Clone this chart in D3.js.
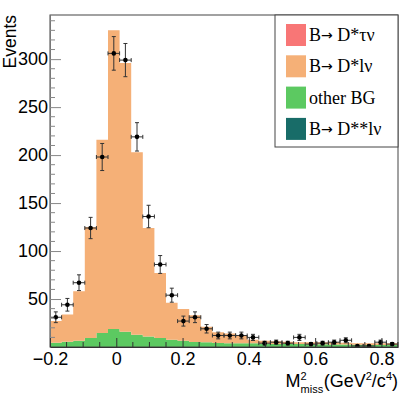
<!DOCTYPE html>
<html>
<head>
<meta charset="utf-8">
<script src="https://cdn.jsdelivr.net/npm/d3@7"></script>
<style>
body { margin: 0; background: #fff; }
</style>
</head>
<body>
<script>
let width = 415
let height = 395

// histogram bins (low edges), width 0.035
let binLow = [-0.2, -0.165, -0.13, -0.095, -0.06, -0.025, 0.01, 0.045, 0.08, 0.115,
  0.15, 0.185, 0.22, 0.255, 0.29, 0.325, 0.36, 0.395, 0.43, 0.465,
  0.5, 0.535, 0.57, 0.605, 0.64, 0.675, 0.71, 0.745, 0.78, 0.815]
let binWidth = 0.035

// stacked MC components
let otherBG = [4.5, 5.5, 6.5, 9.5, 14.5, 18.7, 15.8, 12.8, 11, 9.4,
  7.6, 6.5, 5.2, 5, 4.2, 4, 3.8, 3.8, 3.5, 3.2,
  3, 3, 2.8, 2.8, 2.6, 2.5, 2.3, 2.2, 2, 2]
let dstarLnu = [22.5, 28.5, 51.5, 115.5, 201.5, 311.3, 280.2, 190.2, 113, 67.6,
  38.4, 33, 27.8, 16, 11.3, 10, 8.7, 3.7, 3, 2.8,
  2.5, 2, 2.2, 2.2, 2.4, 2, 1.7, 1.8, 1.8, 1.8]

// data points and errors
let dataCounts = [31, 44, 67, 124, 198, 306, 299, 219, 136, 86,
  54, 27, 31, 19, 12, 12, 12, 10, 4, 5,
  4, 10, 3, 4, 5, 7, 1, 1, 5, 3]
let dataErrors = [5.6, 6.6, 8.2, 11.1, 14.1, 17.5, 17.3, 14.8, 11.7, 9.3,
  7.3, 5.2, 5.6, 4.4, 3.5, 3.5, 3.5, 3.2, 2, 2.2,
  2, 3.2, 1.7, 2, 2.2, 2.6, 1, 1, 2.2, 1.7]

let xTicks = [-0.2, 0, 0.2, 0.4, 0.6, 0.8]
let xMinor = [-0.15, -0.1, -0.05, 0.05, 0.1, 0.15, 0.25, 0.3, 0.35, 0.45, 0.5, 0.55, 0.65, 0.7, 0.75, 0.85]
let yTicks = [50, 100, 150, 200, 250, 300]

// legend: [before arrow, after arrow] ("" = no arrow)
let legendLabels = [["B", " D*\u03c4\u03bd"], ["B", " D*l\u03bd"], ["other BG", null], ["B", " D**l\u03bd"]]
let legendColors = ["#f87676", "#f5b077", "#5cc961", "#186c68"]

let pLeft = 50, pRight = 398, pTop = 15, pBottom = 347

let svg = d3.select("body")
  .append("svg")
  .attr("width", width)
  .attr("height", height)
  .style("background", "#fff")

let x = d3.scaleLinear()
  .domain([-0.2, 0.85])
  .range([pLeft, pRight])

let y = d3.scaleLinear()
  .domain([0, 346])
  .range([pBottom, pTop])

svg.append("clipPath").attr("id", "frame")
  .append("rect")
  .attr("x", pLeft).attr("y", pTop)
  .attr("width", pRight - pLeft).attr("height", pBottom - pTop)

let plot = svg.append("g").attr("clip-path", "url(#frame)")

// stacked histogram
let rows = binLow.map((b, i) => ({lo: b, other: otherBG[i], dsl: dstarLnu[i]}))
let stack = d3.stack().keys(["other", "dsl"])(rows)
let fills = ["#5cc961", "#f5b077"]

let area = d3.area()
  .x(d => x(d.x))
  .y0(d => y(d.y0))
  .y1(d => y(d.y1))

stack.forEach((layer, k) => {
  let steps = []
  layer.forEach(d => {
    steps.push({x: d.data.lo, y0: d[0], y1: d[1]})
    steps.push({x: d.data.lo + binWidth, y0: d[0], y1: d[1]})
  })
  plot.append("path")
    .attr("d", area(steps))
    .style("fill", fills[k])
})

// data points
let pts = plot.selectAll(".pt")
  .data(binLow.map((b, i) => ({lo: b, v: dataCounts[i], e: dataErrors[i]})))
  .enter().append("g")

pts.append("line")
  .attr("x1", d => x(d.lo + binWidth / 2)).attr("x2", d => x(d.lo + binWidth / 2))
  .attr("y1", d => y(d.v - d.e)).attr("y2", d => y(d.v + d.e))
pts.append("line")
  .attr("x1", d => x(d.lo)).attr("x2", d => x(d.lo + binWidth))
  .attr("y1", d => y(d.v)).attr("y2", d => y(d.v))
// caps
pts.append("path")
  .attr("d", d => {
    let cx = x(d.lo + binWidth / 2)
    let x0 = x(d.lo), x1 = x(d.lo + binWidth)
    let yt = y(d.v + d.e), yb = y(d.v - d.e), yc = y(d.v)
    return `M${cx - 2},${yt}H${cx + 2}M${cx - 2},${yb}H${cx + 2}` +
      `M${x0},${yc - 2}V${yc + 2}M${x1},${yc - 2}V${yc + 2}`
  })
  .style("fill", "none")
pts.selectAll("line, path")
  .style("stroke", "#333")
  .style("stroke-width", 1)
pts.append("circle")
  .attr("cx", d => x(d.lo + binWidth / 2))
  .attr("cy", d => y(d.v))
  .attr("r", 2.3)
  .style("fill", "#000")

// frame
svg.append("rect")
  .attr("x", pLeft).attr("y", pTop)
  .attr("width", pRight - pLeft).attr("height", pBottom - pTop)
  .style("fill", "none")
  .style("stroke", "#444")
  .style("stroke-width", 1)

// y axis
let yAxis = d3.axisLeft(y)
  .tickValues(yTicks)
  .tickSizeInner(-11)
  .tickSizeOuter(0)
  .tickPadding(2)
let gy = svg.append("g")
  .attr("transform", `translate(${pLeft},0)`)
  .call(yAxis)
gy.select(".domain").style("stroke", "#777")
gy.selectAll(".tick line").style("stroke", "#888")
gy.selectAll("text")
  .style("font-family", "'Liberation Sans', Arial, sans-serif")
  .style("font-size", "18px")
  .style("fill", "#000")

svg.append("g")
  .selectAll("line")
  .data(d3.range(10, 346, 10).filter(v => v % 50 !== 0))
  .enter().append("line")
  .attr("x1", pLeft).attr("x2", pLeft + 5)
  .attr("y1", d => y(d)).attr("y2", d => y(d))
  .style("stroke", "#888")

// x axis
let xAxis = d3.axisBottom(x)
  .tickValues(xTicks)
  .tickFormat(d => d === 0 ? "0" : d3.format(".1f")(d))
  .tickSizeInner(-9)
  .tickSizeOuter(0)
  .tickPadding(5)
let gx = svg.append("g")
  .attr("transform", `translate(0,${pBottom})`)
  .call(xAxis)
gx.select(".domain").style("stroke", "#333")
gx.selectAll(".tick line").style("stroke", "#333")
gx.selectAll("text")
  .style("font-family", "'Liberation Sans', Arial, sans-serif")
  .style("font-size", "18px")
  .style("fill", "#000")

svg.append("g")
  .selectAll("line")
  .data(xMinor)
  .enter().append("line")
  .attr("x1", d => x(d)).attr("x2", d => x(d))
  .attr("y1", pBottom).attr("y2", pBottom - 5)
  .style("stroke", "#333")

// y title
svg.append("text")
  .attr("transform", `translate(16,${pTop}) rotate(-90)`)
  .attr("text-anchor", "end")
  .style("font-family", "'Liberation Sans', Arial, sans-serif")
  .style("font-size", "17.5px")
  .text("Events")

// x title, built from pieces and right aligned
let xt = svg.append("g")
let font = "'Liberation Sans', Arial, sans-serif"
let cur = 0
function piece(txt, size, dy) {
  let t = xt.append("text")
    .attr("x", cur).attr("y", dy)
    .style("font-family", font)
    .style("font-size", size + "px")
    .text(txt)
  return t.node().getComputedTextLength()
}
cur += piece("M", 18, 0)
let w1 = piece("2", 11, -7.5)
let w2 = piece("miss", 11, 5.5)
cur += Math.max(w1, w2) + 0.5
cur += piece("(GeV", 18, 0)
cur += piece("2", 11, -7.5)
cur += piece("/c", 18, 0)
cur += piece("4", 11, -7.5)
cur += piece(")", 18, 0)
xt.attr("transform", `translate(${pRight - cur},387)`)

// legend
let lg = svg.append("g")
lg.append("rect")
  .attr("x", 275).attr("y", pTop)
  .attr("width", pRight - 275).attr("height", 132)
  .style("fill", "#fff")
  .style("stroke", "#444")

legendLabels.forEach((lab, i) => {
  let cy = 35 + i * 31.3
  lg.append("rect")
    .attr("x", 286).attr("y", cy - 11)
    .attr("width", 20).attr("height", 22)
    .style("fill", legendColors[i])
  let t = lg.append("text")
    .attr("x", 309).attr("y", cy + 6)
    .style("font-family", "'Liberation Serif', 'Times New Roman', serif")
    .style("font-size", "18px")
  t.append("tspan").text(lab[0])
  if (lab[1] !== null) {
    t.append("tspan")
      .attr("dy", -1)
      .style("font-family", "'DejaVu Sans', sans-serif")
      .style("font-size", "14px")
      .text("\u2192")
    t.append("tspan").attr("dy", 1).text(lab[1])
  }
})
</script>
</body>
</html>
